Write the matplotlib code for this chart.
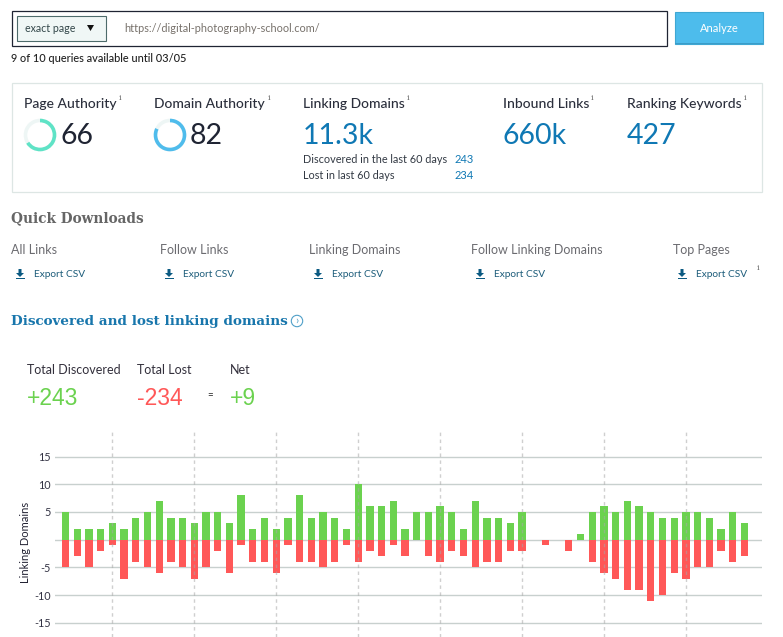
import matplotlib
matplotlib.use("Agg")
import numpy as np
import matplotlib.pyplot as plt
from matplotlib.patches import Rectangle, Wedge, Circle, Polygon

discovered = [5, 2, 2, 2, 3, 2, 4, 5, 7, 4, 4, 3, 5, 5, 3, 8, 2, 4, 2, 4, 8, 4, 5, 4, 2, 10, 6, 6, 7,
              2, 5, 5, 6, 5, 2, 7, 4, 4, 3, 5, 0, 0, 0, 0, 1, 5, 6, 5, 7, 6, 5, 4, 4, 5, 5, 4, 2, 5, 3]
lost = [-5, -3, -5, -2, -1, -7, -4, -5, -6, -4, -5, -7, -5, -2, -6, -1, -4, -4, -6, -1, -4, -4, -5, -4, -1, -4, -2, -3, -1,
        -3, 0, -3, -4, -2, -3, -5, -4, -4, -2, -2, 0, -1, 0, -2, 0, -4, -6, -7, -9, -9, -11, -10, -6, -7, -5, -5, -2, -4, -3]
week_marks = [4, 11, 18, 25, 32, 39, 46, 53]
y_ticks = [-15, -10, -5, 0, 5, 10, 15]
y_tick_labels = ["-15", "-10", "-5", "", "5", "10", "15"]

metric_titles = ["Page Authority", "Domain Authority", "Linking Domains", "Inbound Links", "Ranking Keywords"]
metric_values = ["66", "82", "11.3k", "660k", "427"]
authority_scores = [66, 82]
download_titles = ["All Links", "Follow Links", "Linking Domains", "Follow Linking Domains", "Top Pages"]

GREEN = "#6bd24f"
RED = "#ff5858"
BLUE = "#0f78b4"
DARK = "#1f2433"
FONT = "Lato"
SLAB = "DejaVu Serif"

plt.rcParams["font.family"] = FONT

fig = plt.figure(figsize=(7.83, 6.37), dpi=100)

# page furniture, in pixel coordinates
page = fig.add_axes([0, 0, 1, 1])
page.set_xlim(0, 783)
page.set_ylim(637, 0)
page.axis("off")


def label(x, y, s, size, color=DARK, **kw):
    kw.setdefault("va", "center")
    page.text(x, y + 1.5, s, fontsize=size, color=color, **kw)


page.add_patch(Rectangle((11.5, 10.5), 655, 35, fc="white", ec=DARK, lw=0.9))
page.add_patch(Rectangle((16.5, 15.5), 89, 25, fc="#f0f7f6", ec="#4d6b6b", lw=0.8))
label(25, 27, "exact page", 7.7, "#33474a")
page.add_patch(Polygon([[87, 25], [94, 25], [90.5, 31]], fc="#111111", ec="none"))
label(124, 27, "https://digital-photography-school.com/", 7.85, "#77716b")
page.add_patch(Rectangle((674.5, 11.5), 88, 32, fc="#4dbcec", ec="#3fa7d3", lw=0.8))
page.add_patch(Rectangle((674.5, 42.5), 88, 1.8, fc="#3a9cc8", ec="none"))
label(719, 27, "Analyze", 8, "white", ha="center")
label(11, 57, "9 of 10 queries available until 03/05", 7.9, "#222222", fontweight="medium")

page.add_patch(Rectangle((11.5, 82.5), 750, 109, fc="white", ec="#dde6e4", lw=0.9))

title_x = [24, 154, 303, 503, 627]
info_x = [119, 268, 407, 591, 744]
value_x = [60, 190, 303, 503, 627]
for i in range(5):
    label(title_x[i], 102, metric_titles[i], 10, "#2b2f3c", fontweight="medium")
    label(info_x[i], 97, "i", 6, "#666666", family="DejaVu Serif")
    color = DARK if i < 2 else BLUE
    label(value_x[i], 135, metric_values[i], 20.5, color)

ring_x = [40, 170]
ring_col = ["#5fe3c6", "#4fbcec"]
for i in range(2):
    page.add_patch(Wedge((ring_x[i], 135), 16.3, 0, 360, width=3.6, fc="#eef6f5", ec="none"))
    page.add_patch(Wedge((ring_x[i], 135), 16.3, -90, -90 + 3.6 * authority_scores[i], width=3.6,
                         fc=ring_col[i], ec="none"))

label(303, 158, "Discovered in the last 60 days", 7.8, "#333a44")
label(303, 174, "Lost in last 60 days", 7.8, "#333a44")
label(455, 158, "243", 8, BLUE)
label(455, 174, "234", 8, BLUE)

label(11, 217, "Quick Downloads", 9.8, "#666666", family=SLAB, fontweight="bold")

dl_x = [11, 160, 309, 471, 673]
for i in range(5):
    label(dl_x[i], 249, download_titles[i], 9, "#6b6b70")
    ix = dl_x[i] + 9
    page.add_patch(Polygon([[ix - 1.5, 269], [ix + 1.5, 269], [ix + 1.5, 273], [ix + 4, 273], [ix, 277],
                            [ix - 4, 273], [ix - 1.5, 273]], fc="#0b5a82", ec="none"))
    page.add_patch(Rectangle((ix - 4.5, 278), 9, 1.2, fc="#0b5a82", ec="none"))
    label(dl_x[i] + 23, 273, "Export CSV", 7.3, "#1c5c7a")
label(757, 266, "i", 6, "#666666", family="DejaVu Serif")

label(11, 320, "Discovered and lost linking domains", 9.7, "#1876ac", family=SLAB, fontweight="bold")
page.add_patch(Circle((297, 321), 5.7, fc="none", ec="#4f9fc8", lw=0.8))
label(297, 319, "›", 8, "#4f9fc8", ha="center")

label(27, 369, "Total Discovered", 9, "#33303c")
label(137, 369, "Total Lost", 9, "#33303c")
label(230, 369, "Net", 9, "#33303c")
label(27, 397, "+243", 16.5, GREEN, family="Liberation Sans")
label(137, 397, "-234", 16.5, RED, family="Liberation Sans")
label(210, 394, "=", 7, "#222222", ha="center")
label(230, 397, "+9", 16.5, GREEN, family="Liberation Sans")

# bar chart, runs off the bottom of the page
ax = fig.add_axes([55 / 783, 0, 707 / 783, 205 / 637])
ax.patch.set_alpha(0)
x = np.arange(len(discovered))
ax.bar(x, discovered, width=0.62, color=GREEN, zorder=2)
ax.bar(x, lost, width=0.62, color=RED, zorder=2)

for m in week_marks:
    ax.axvline(m, color="#a8a8a8", lw=1, ls=(0, (2.5, 2.5)), alpha=0.55, zorder=3)

ax.set_xlim(-0.9, 59.5)
ax.set_ylim(-17.54, 19.42)
ax.set_yticks(y_ticks)
ax.set_yticklabels(y_tick_labels)
ax.set_xticks([])
ax.grid(axis="y", color="#c8d0ce", lw=1, zorder=1)
ax.set_axisbelow(True)
ax.tick_params(axis="y", length=0, pad=3, labelsize=7.8, labelcolor="#333344")
for s in ax.spines.values():
    s.set_visible(False)
label(26, 541, "Linking Domains", 8, "#222233", rotation=90, ha="center")

fig.savefig("out.png", dpi=100)
